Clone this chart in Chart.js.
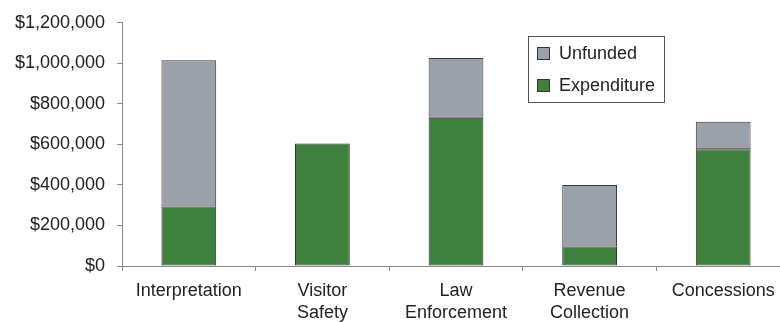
<!DOCTYPE html>
<html>
<head>
<meta charset="utf-8">
<script src="https://cdn.jsdelivr.net/npm/chart.js@4/dist/chart.umd.min.js"></script>
<style>
html,body{margin:0;padding:0;background:#fff;overflow:hidden;width:780px;height:322px;}
#wrap{width:790px;height:322px;}
</style>
</head>
<body>
<div id="wrap"><canvas id="c" width="790" height="322"></canvas></div>
<script>
const categories = [['Interpretation'], ['Visitor', 'Safety'], ['Law', 'Enforcement'], ['Revenue', 'Collection'], ['Concessions']];
const expenditure = [293000, 605000, 732000, 96000, 576000];
const unfunded = [722000, 0, 294000, 304000, 136000];
const yTicks = [0, 200000, 400000, 600000, 800000, 1000000, 1200000];
const seriesNames = ['Expenditure', 'Unfunded'];
const seriesColors = ['#3f803f', '#9ba1a9'];

const FONT = 'Liberation Sans, Arial, sans-serif';
const TEXT = '#222222';
const AXIS = '#8a8a8a';

const boxLegend = {
  id: 'boxLegend',
  afterDraw(chart) {
    const ctx = chart.ctx;
    const x0 = 528, y0 = 36, w = 136, h = 66;
    ctx.save();
    ctx.fillStyle = '#ffffff';
    ctx.fillRect(x0, y0, w, h);
    ctx.strokeStyle = '#555555';
    ctx.lineWidth = 1;
    ctx.strokeRect(x0 + 0.5, y0 + 0.5, w, h);
    const ds = chart.data.datasets.slice().reverse();
    ds.forEach((d, i) => {
      const cy = 53 + i * 32;
      ctx.fillStyle = d.backgroundColor;
      ctx.fillRect(537, cy - 6, 13, 13);
      ctx.strokeStyle = '#333333';
      ctx.strokeRect(537.5, cy - 5.5, 12, 12);
      ctx.fillStyle = TEXT;
      ctx.font = '18px ' + FONT;
      ctx.textBaseline = 'middle';
      ctx.textAlign = 'left';
      ctx.fillText(d.label, 559, cy + 1);
    });
    ctx.restore();
  }
};

new Chart(document.getElementById('c'), {
  type: 'bar',
  data: {
    labels: categories,
    datasets: [
      { label: seriesNames[0], data: expenditure, backgroundColor: seriesColors[0], borderColor: '#2e2e2e', borderWidth: 1, borderSkipped: false },
      { label: seriesNames[1], data: unfunded, backgroundColor: seriesColors[1], borderColor: '#3a3a3a', borderWidth: 1, borderSkipped: false }
    ]
  },
  options: {
    responsive: false,
    animation: false,
    devicePixelRatio: 1,
    layout: { padding: { top: 20, right: 0, left: 0, bottom: 0 } },
    plugins: { legend: { display: false }, tooltip: { enabled: false } },
    datasets: { bar: { categoryPercentage: 0.82, barPercentage: 0.5 } },
    scales: {
      x: {
        stacked: true,
        afterFit(s) { s.height = 56; },
        grid: { display: true, drawOnChartArea: false, offset: true, color: AXIS, tickLength: 5, tickColor: AXIS },
        border: { display: true, color: AXIS, width: 1 },
        ticks: { color: TEXT, font: { family: FONT, size: 18, lineHeight: 1.17 }, padding: 10, maxRotation: 0, autoSkip: false }
      },
      y: {
        stacked: true,
        min: 0,
        max: 1200000,
        afterFit(s) { s.width = 122; },
        afterBuildTicks(s) { s.ticks = yTicks.map(v => ({ value: v })); },
        grid: { display: true, drawOnChartArea: false, color: AXIS, tickLength: 5, tickColor: AXIS },
        border: { display: true, color: AXIS, width: 1 },
        ticks: {
          color: TEXT,
          font: { family: FONT, size: 18 },
          padding: 12,
          callback: v => '$' + Number(v).toLocaleString('en-US')
        }
      }
    }
  },
  plugins: [boxLegend]
});
</script>
</body>
</html>
